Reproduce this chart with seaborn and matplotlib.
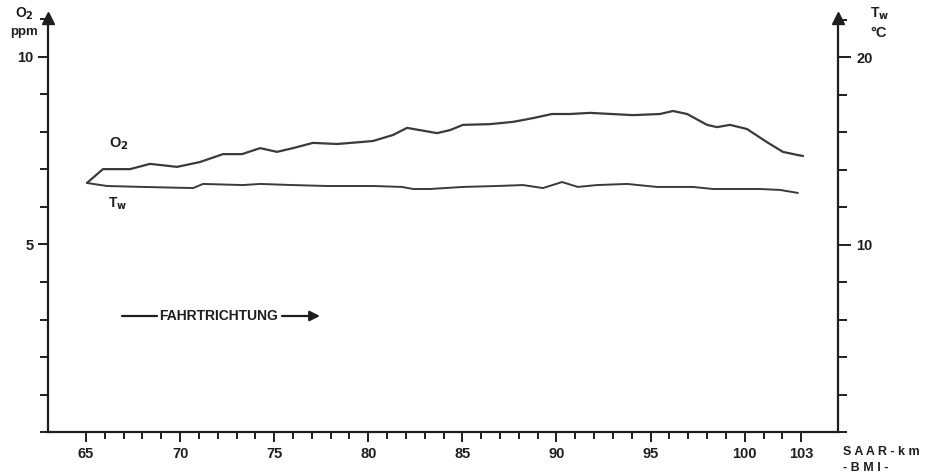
import matplotlib
matplotlib.use("Agg")
import matplotlib.pyplot as plt
import seaborn as sns
import numpy as np
import pandas as pd
from matplotlib.ticker import MultipleLocator, FixedLocator

# River kilometre (Saar, BMI stationing) and measured values
o2_km = [65.05, 65.90, 67.34, 68.40, 69.84, 71.06, 72.28, 73.29, 74.25, 75.15,
         76.00, 77.06, 78.34, 79.56, 80.25, 81.31, 82.06, 83.65, 84.34, 85.03,
         86.47, 87.69, 88.75, 89.76, 90.72, 91.78, 94.06, 95.50, 96.19, 96.94,
         98.00, 98.53, 99.22, 100.12, 101.18, 102.03, 102.78, 103.10]
o2_ppm = [6.64, 7.01, 7.01, 7.15, 7.07, 7.20, 7.41, 7.41, 7.57, 7.47,
          7.57, 7.71, 7.68, 7.73, 7.76, 7.92, 8.11, 7.97, 8.05, 8.19,
          8.21, 8.27, 8.37, 8.48, 8.48, 8.51, 8.45, 8.48, 8.56, 8.48,
          8.19, 8.13, 8.19, 8.08, 7.73, 7.47, 7.39, 7.36]

tw_km = [65.05, 66.12, 68.03, 70.69, 71.22, 73.34, 74.25, 76.00, 77.81, 79.56,
         80.25, 81.79, 82.38, 83.28, 85.03, 86.84, 88.22, 89.28, 90.29, 91.14,
         92.15, 93.75, 95.34, 97.25, 98.32, 100.81, 101.88, 102.83]
tw_c = [13.28, 13.12, 13.07, 13.01, 13.23, 13.17, 13.23, 13.17, 13.12, 13.12,
        13.12, 13.07, 12.96, 12.96, 13.07, 13.12, 13.17, 13.01, 13.33, 13.07,
        13.17, 13.23, 13.07, 13.07, 12.96, 12.96, 12.91, 12.75]

x_major = [65, 70, 75, 80, 85, 90, 95, 100, 103]
x_labels = ["65", "70", "75", "80", "85", "90", "95", "100", "103"]

sns.set_theme(style="ticks")
plt.rcParams["font.family"] = ["Liberation Sans", "DejaVu Sans"]
plt.rcParams["mathtext.default"] = "bf"

W, H = 929, 476
fig = plt.figure(figsize=(W / 100, H / 100), dpi=100)
fig.patch.set_facecolor("white")

def fx(px):
    return px / W

def fy(py):
    return 1 - py / H

ink = "#1e1e1e"
curve = "#3a3a3a"

left_px, right_px, bottom_px, top_px = 48, 838, 432, 18
ax = fig.add_axes([fx(left_px), fy(bottom_px),
                   (right_px - left_px) / W, (bottom_px - top_px) / H])
ax2 = ax.twinx()

df_o2 = pd.DataFrame({"km": o2_km, "val": o2_ppm})
df_tw = pd.DataFrame({"km": tw_km, "val": tw_c})
sns.lineplot(data=df_o2, x="km", y="val", ax=ax, color=curve, lw=1.6,
             estimator=None, sort=False)
sns.lineplot(data=df_tw, x="km", y="val", ax=ax2, color=curve, lw=1.4,
             estimator=None, sort=False)

px_per_km = 18.82
ax.set_xlim(65 - (86 - left_px) / px_per_km, 65 + (right_px - 86) / px_per_km)
ax.set_ylim(0, (bottom_px - top_px) / 37.5)
ax2.set_ylim(0, 2 * (bottom_px - top_px) / 37.5)

for a in (ax, ax2):
    a.set_xlabel("")
    a.set_ylabel("")
    a.set_facecolor("none")
    a.grid(False)
    a.spines["top"].set_visible(False)
    for s in ("left", "right", "bottom"):
        a.spines[s].set_color(ink)
        a.spines[s].set_linewidth(1.6)

ax.spines["right"].set_visible(False)
ax2.spines["left"].set_visible(False)
ax2.spines["bottom"].set_visible(False)

tick_font = dict(fontsize=10.5, fontweight="bold", color=ink)

ax.xaxis.set_major_locator(FixedLocator(x_major))
ax.set_xticklabels(x_labels, **tick_font)
ax.xaxis.set_minor_locator(FixedLocator(list(range(65, 104))))
ax.tick_params(axis="x", which="major", length=7.5, width=1.4, color=ink, pad=3)
ax.tick_params(axis="x", which="minor", length=5, width=1.4, color=ink)

ax.yaxis.set_major_locator(FixedLocator([5, 10]))
ax.set_yticklabels(["5", "10"], **tick_font)
ax.yaxis.set_minor_locator(MultipleLocator(1))
ax.tick_params(axis="y", which="major", length=7.5, width=1.4, color=ink, pad=3)
ax.tick_params(axis="y", which="minor", length=6, width=1.4, color=ink)

ax2.yaxis.set_major_locator(FixedLocator([10, 20]))
ax2.set_yticklabels(["10", "20"], **tick_font)
ax2.yaxis.set_minor_locator(MultipleLocator(2))
ax2.tick_params(axis="y", which="major", length=9, width=1.4, color=ink, pad=4)
ax2.tick_params(axis="y", which="minor", length=6.5, width=1.4, color=ink)

# arrow heads on top of both vertical axes
for xa in (0, 1):
    ax.plot([xa], [1.0], marker="^", markersize=8, color=ink,
            transform=ax.transAxes, clip_on=False)

lab = dict(fontweight="bold", color=ink, ha="center", va="center")
fig.text(fx(24), fy(14), r"O$_2$", fontsize=10, **lab)
fig.text(fx(24), fy(32), "ppm", fontsize=9.5, **lab)
fig.text(fx(880), fy(14), r"T$_w$", fontsize=10, **lab)
fig.text(fx(879), fy(33), "°C", fontsize=10.5, **lab)
fig.text(fx(843), fy(452), "S A A R - k m", fontsize=9, fontweight="bold",
         color=ink, ha="left", va="center")
fig.text(fx(843), fy(468), "- B M I -", fontsize=9, fontweight="bold",
         color=ink, ha="left", va="center")

# curve names
fig.text(fx(119), fy(144), r"O$_2$", fontsize=10.5, **lab)
fig.text(fx(118), fy(204), r"T$_w$", fontsize=10, **lab)

# direction of travel
fig.text(fx(219), fy(316), "FAHRTRICHTUNG", fontsize=10, **lab)
fig.add_artist(plt.Line2D([fx(122), fx(157)], [fy(316), fy(316)],
                          color=ink, lw=1.6, transform=fig.transFigure))
fig.add_artist(matplotlib.patches.FancyArrowPatch(
    (fx(282), fy(316)), (fx(320), fy(316)), transform=fig.transFigure,
    arrowstyle="-|>,head_length=6,head_width=3", color=ink, lw=1.6,
    shrinkA=0, shrinkB=0))

fig.savefig("out.png", dpi=100, facecolor="white")
